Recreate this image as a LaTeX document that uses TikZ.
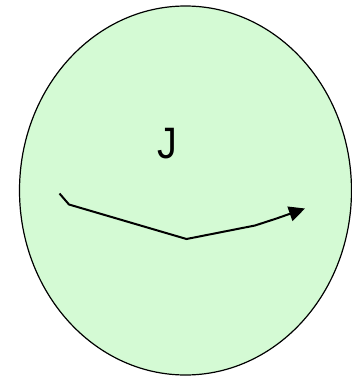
\documentclass[tikz,border=0pt]{standalone}
\usepackage{fontspec}
\setmainfont{Liberation Sans}
\usetikzlibrary{arrows.meta}
\definecolor{cellgreen}{RGB}{212,250,212}
\tikzset{
  cell/.style={draw=black, fill=cellgreen, line width=1.2pt},
  path/.style={draw=black, line width=2pt, -{Triangle[length=16pt,width=15pt]}},
  label/.style={font=\fontsize{44}{50}\selectfont, inner sep=0pt, xscale=0.9}
}
\begin{document}
\begin{tikzpicture}[x=1pt,y=-1pt]
\useasboundingbox (0,0) rectangle (352,376);
\path[cell] (185.5,190.5) ellipse [x radius=166, y radius=184.5];
\node[label, anchor=base] (j) at (167,158) {J};
\coordinate (p0) at (59.5,193.5);
\coordinate (p1) at (69,204.5);
\coordinate (p2) at (186.5,239);
\coordinate (p3) at (255,225.5);
\coordinate (p4) at (276.5,218.5);
\coordinate (p5) at (305,208.5);
\draw[path] (p0) -- (p1) -- (p2) -- (p3) -- (p4) -- (p5);
\end{tikzpicture}
\end{document}
